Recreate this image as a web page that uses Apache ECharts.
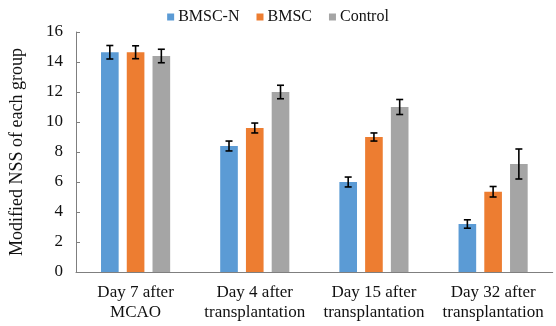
<!DOCTYPE html>
<html>
<head>
<meta charset="utf-8">
<script src="https://cdn.jsdelivr.net/npm/echarts@6/dist/echarts.min.js"></script>
<style>
html,body{margin:0;padding:0;background:#fff;}
#chart{width:556px;height:326px;}
</style>
</head>
<body>
<div id="chart"></div>
<script>
const categories = ['Day 7 after\nMCAO', 'Day 4 after\ntransplantation', 'Day 15 after\ntransplantation', 'Day 32 after\ntransplantation'];
const seriesNames = ['BMSC-N', 'BMSC', 'Control'];
const bmscN = [14.65, 8.4, 6.0, 3.2];
const bmsc = [14.65, 9.6, 9.0, 5.35];
const control = [14.4, 12.0, 11.0, 7.2];
const bmscNErr = [0.45, 0.33, 0.33, 0.28];
const bmscErr = [0.43, 0.33, 0.27, 0.35];
const controlErr = [0.45, 0.45, 0.5, 1.0];
const yTicks = [0, 2, 4, 6, 8, 10, 12, 14, 16];

const colors = ['#5B9BD5', '#ED7D31', '#A5A5A5'];
const values = [bmscN, bmsc, control];
const errs = [bmscNErr, bmscErr, controlErr];
const BAR_W = 0.148, BAR_GAP = 0.46;
const font = 'Liberation Serif, Times New Roman, serif';

const chart = echarts.init(document.getElementById('chart'));
const series = [];
values.forEach((v, i) => {
  series.push({
    name: seriesNames[i], type: 'bar', data: v,
    barWidth: (BAR_W * 100) + '%', barGap: (BAR_GAP * 100) + '%',
    itemStyle: { color: colors[i] }, z: 2
  });
});
values.forEach((v, i) => {
  series.push({
    type: 'custom', name: seriesNames[i] + ' err', z: 5,
    data: v.map((val, k) => [k, val - errs[i][k], val + errs[i][k]]),
    encode: { x: 0, y: [1, 2] },
    renderItem: function (params, api) {
      const band = api.size([1, 0])[0];
      const off = (i - 1) * band * BAR_W * (1 + BAR_GAP);
      const lo = api.coord([api.value(0), api.value(1)]);
      const hi = api.coord([api.value(0), api.value(2)]);
      const x = lo[0] + off;
      const cw = 3.5;
      const st = { stroke: '#000', lineWidth: 1.6 };
      return {
        type: 'group', children: [
          { type: 'line', shape: { x1: x, y1: lo[1], x2: x, y2: hi[1] }, style: st },
          { type: 'line', shape: { x1: x - cw, y1: lo[1], x2: x + cw, y2: lo[1] }, style: st },
          { type: 'line', shape: { x1: x - cw, y1: hi[1], x2: x + cw, y2: hi[1] }, style: st }
        ]
      };
    }
  });
});

chart.setOption({
  animation: false,
  textStyle: { fontFamily: font },
  legend: {
    data: seriesNames, top: 4, left: 'center', itemWidth: 7, itemHeight: 7, itemGap: 17,
    icon: 'rect',
    textStyle: { fontFamily: font, fontSize: 16, color: '#111', padding: [0, 0, 0, -1] }
  },
  grid: { left: 70.7, right: 3.3, top: 32, bottom: 54, containLabel: false },
  xAxis: {
    type: 'category', data: categories,
    axisLine: { lineStyle: { color: '#7f7f7f', width: 1 } },
    axisTick: { inside: true, length: 4, lineStyle: { color: '#7f7f7f' } },
    axisLabel: { fontFamily: font, fontSize: 17, color: '#111', lineHeight: 20, margin: 11, interval: 0 }
  },
  yAxis: {
    type: 'value', min: yTicks[0], max: yTicks[yTicks.length - 1], interval: 2,
    name: 'Modified NSS of each group', nameLocation: 'middle', nameGap: 50,
    nameTextStyle: { fontFamily: font, fontSize: 18, color: '#111' },
    axisLine: { show: true, lineStyle: { color: '#7f7f7f', width: 1 } },
    axisTick: { show: true, inside: true, length: 4, lineStyle: { color: '#7f7f7f' } },
    splitLine: { show: false },
    axisLabel: { fontFamily: font, fontSize: 17, color: '#111', margin: 13 }
  },
  series: series
});
</script>
</body>
</html>
